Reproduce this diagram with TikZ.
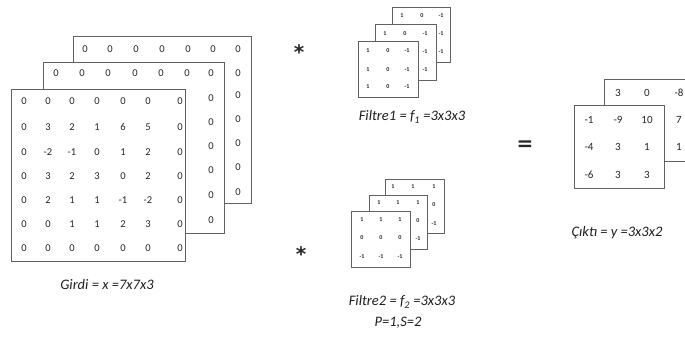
\documentclass[tikz,border=0pt]{standalone}
\usepackage{fontspec}
\setmainfont{Carlito}
\newfontfamily\symfont{DejaVu Sans}
\begin{document}
\begin{tikzpicture}[x=1pt,y=-1pt,
  sq/.style={draw=black!62, line width=1.1pt, fill=white, inner sep=0pt, anchor=north west},
  bignum/.style={font=\fontsize{10.5}{10.5}\selectfont, text=black!85, inner sep=0pt},
  tinynum/.style={font=\bfseries\fontsize{6}{6}\selectfont, text=black!85, inner sep=0pt},
  outnum/.style={font=\fontsize{11}{11}\selectfont, text=black!85, inner sep=0pt},
  lbl/.style={font=\itshape\fontsize{14.5}{14.5}\selectfont, text=black!88, inner sep=0pt},
  op/.style={font=\symfont\bfseries\fontsize{20}{20}\selectfont, text=black!85, inner sep=0pt}]
\clip (0,0) rectangle (685,345);
\fill[white] (0,0) rectangle (685,345);

% ---------- Input x (7x7x3) ----------
\node[sq, minimum width=178pt, minimum height=167pt] (inB) at (73,36) {};
\foreach \xx/\v [count=\i] in {85/0,110/0,136/0,162/0,188/0,213/0,238/0}
  \node[bignum] (inB-t\i) at (\xx,49) {\v};
\foreach \yy [count=\i] in {73,95,119,143,167,192}
  \node[bignum] (inB-r\i) at (238,\yy) {0};

\node[sq, minimum width=181pt, minimum height=171pt] (inM) at (43,62) {};
\foreach \xx [count=\i] in {56,82,108,135,161,187,211}
  \node[bignum] (inM-t\i) at (\xx,73) {0};
\foreach \yy [count=\i] in {98,122,146,170,195,220}
  \node[bignum] (inM-r\i) at (211,\yy) {0};

\node[sq, minimum width=174pt, minimum height=172pt] (inF) at (11,89) {};
\def\incols{{24,48,72,97,123,148,180}}
\def\inrows{{101,127,152,176,200,224,248}}
\foreach \row [count=\j] in {{0,0,0,0,0,0,0},{0,3,2,1,6,5,0},{0,-2,-1,0,1,2,0},{0,3,2,3,0,2,0},{0,2,1,1,-1,-2,0},{0,0,1,1,2,3,0},{0,0,0,0,0,0,0}}{
  \foreach \v [count=\i] in \row {
    \pgfmathsetmacro\px{\incols[\i-1]}
    \pgfmathsetmacro\py{\inrows[\j-1]}
    \node[bignum] (inF-\j-\i) at (\px,\py) {\v};
  }
}
\node[lbl] (inLbl) at (107,285) {Girdi = x =7x7x3};

% ---------- operators ----------
\node[op] (star1) at (299,52) {*};
\node[op] (star2) at (301,254) {*};
\node[op] (eq) at (525,146) {=};

% ---------- Filter 1 ----------
\node[sq, line width=0.9pt, minimum width=58pt, minimum height=55pt] (f1B) at (392,7) {};
\foreach \xx/\v [count=\i] in {402/1,422/0,441/-1}
  \node[tinynum] (f1B-t\i) at (\xx,16) {\v};
\foreach \yy [count=\i] in {34,52}
  \node[tinynum] (f1B-r\i) at (441,\yy) {-1};

\node[sq, line width=0.9pt, minimum width=61pt, minimum height=56pt] (f1M) at (375,24) {};
\foreach \xx/\v [count=\i] in {385/1,405/0,425/-1}
  \node[tinynum] (f1M-t\i) at (\xx,34) {\v};
\foreach \yy [count=\i] in {52,70}
  \node[tinynum] (f1M-r\i) at (425,\yy) {-1};

\node[sq, line width=0.9pt, minimum width=60pt, minimum height=56pt] (f1F) at (358,41) {};
\foreach \yy [count=\j] in {51,70,87}{
  \foreach \xx/\v [count=\i] in {368/1,388/0,407/-1}
    \node[tinynum] (f1F-\j-\i) at (\xx,\yy) {\v};
}
\node[lbl] (f1Lbl) at (412,117) {Filtre1 = {f}\textsubscript{1} =3x3x3};

% ---------- Filter 2 ----------
\node[sq, line width=0.9pt, minimum width=59pt, minimum height=54pt] (f2B) at (385,179) {};
\foreach \xx [count=\i] in {393,413,434}
  \node[tinynum] (f2B-t\i) at (\xx,187) {1};
\foreach \yy/\v [count=\i] in {205/0,224/-1}
  \node[tinynum] (f2B-r\i) at (434,\yy) {\v};

\node[sq, line width=0.9pt, minimum width=58pt, minimum height=54pt] (f2M) at (369,195) {};
\foreach \xx [count=\i] in {379,398,418}
  \node[tinynum] (f2M-t\i) at (\xx,203) {1};
\foreach \yy/\v [count=\i] in {221/0,239/-1}
  \node[tinynum] (f2M-r\i) at (418,\yy) {\v};

\node[sq, line width=0.9pt, minimum width=59pt, minimum height=56pt] (f2F) at (351,211) {};
\foreach \yy/\v [count=\j] in {220/1,238/0,257/-1}{
  \foreach \xx [count=\i] in {362,381,400}
    \node[tinynum] (f2F-\j-\i) at (\xx,\yy) {\v};
}
\node[lbl] (f2Lbl) at (402,302) {Filtre2 = {f}\textsubscript{2} =3x3x3};
\node[lbl] (pad) at (398,323) {P=1,S=2};

% ---------- Output y (3x3x2) ----------
\begin{scope}[yshift=-8pt]
\node[sq, minimum width=90pt, minimum height=82pt] (outB) at (604,71) {};
\foreach \xx/\v [count=\i] in {618/3,647/0,679/-8}
  \node[outnum] (outB-t\i) at (\xx,85) {\v};
\foreach \yy/\v [count=\i] in {112/7,139/1}
  \node[outnum] (outB-r\i) at (679,\yy) {\v};

\node[sq, minimum width=90pt, minimum height=83pt] (outF) at (574,97) {};
\foreach \yy/\a/\b/\c [count=\j] in {112/-1/-9/10,139/-4/3/1,167/-6/3/3}{
  \node[outnum] (outF-\j-1) at (589,\yy) {\a};
  \node[outnum] (outF-\j-2) at (618,\yy) {\b};
  \node[outnum] (outF-\j-3) at (647,\yy) {\c};
}
\node[lbl] (outLbl) at (617,225) {Çıktı = y =3x3x2};
\end{scope}
\end{tikzpicture}
\end{document}
